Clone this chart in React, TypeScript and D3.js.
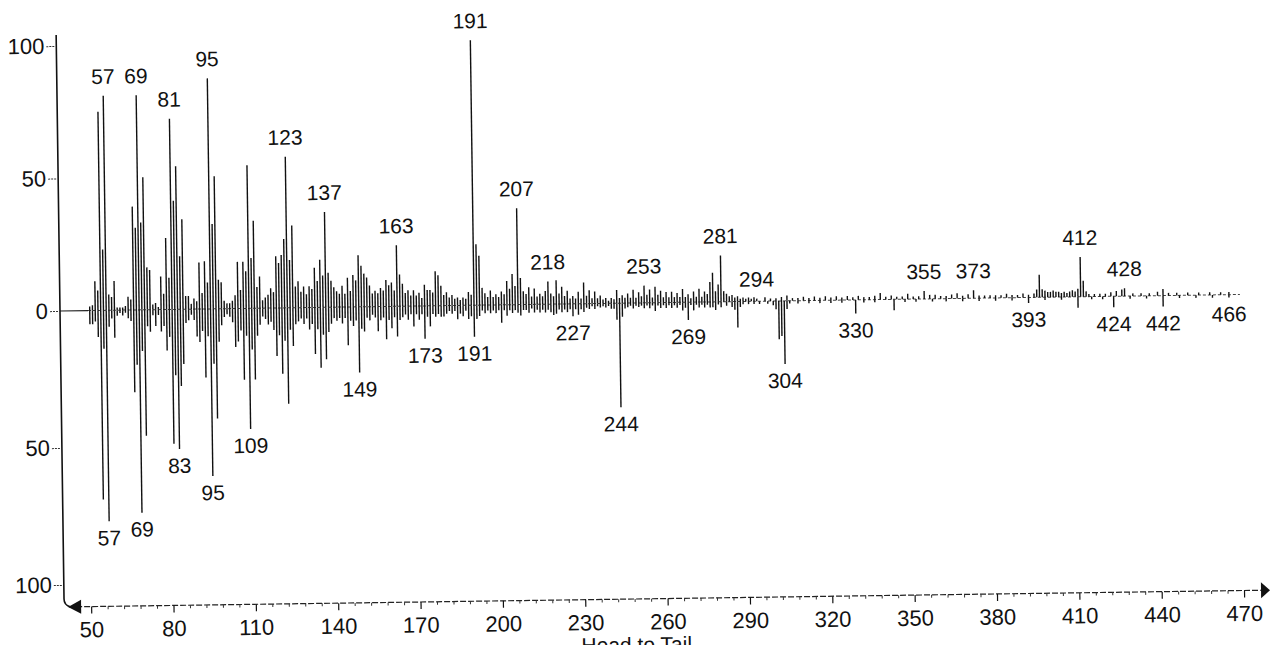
import React, { useEffect, useRef } from "react";
import * as d3 from "d3";

const WIDTH = 1274,
  HEIGHT = 645;

// Upper (head) spectrum: [m/z, relative intensity]
const headPeaks: [number, number][] = [
  [51, 1.5], [52, 2], [53, 11], [54, 7.5], [55, 75], [56, 23], [57, 81], [58, 6], [59, 5], [60, 11],
  [61, 1], [62, 1], [63, 1], [64, 1.5], [65, 5], [66, 4], [67, 39], [68, 31], [69, 81], [70, 33],
  [71, 50], [72, 16], [73, 15], [74, 2], [75, 2.5], [76, 1], [77, 12.5], [78, 6], [79, 27], [80, 12],
  [81, 72], [82, 41], [83, 54], [84, 20], [85, 34], [86, 5], [87, 5], [88, 2], [89, 4], [90, 3],
  [91, 17.6], [92, 6], [93, 18], [94, 10], [95, 87], [96, 32], [97, 50], [98, 11], [99, 10], [100, 3],
  [101, 2], [102, 2], [103, 3], [104, 5], [105, 17.6], [106, 7], [107, 17.6], [108, 14], [109, 54], [110, 19],
  [111, 33], [112, 8], [113, 12], [114, 3], [115, 4], [116, 5], [117, 7.5], [118, 6], [119, 19.5], [120, 17],
  [121, 20], [122, 26], [123, 57], [124, 18], [125, 31], [126, 8], [127, 10], [128, 6], [129, 8], [130, 5],
  [131, 8], [132, 7], [133, 15], [134, 10], [135, 18], [136, 12], [137, 36], [138, 13], [139, 10], [140, 7.5],
  [141, 6], [142, 5], [143, 8], [144, 5], [145, 11], [146, 6], [147, 12], [148, 10], [149, 19.5], [150, 15.5],
  [151, 12.5], [152, 11], [153, 8], [154, 5], [155, 6], [156, 5], [157, 7], [158, 6], [159, 10], [160, 8],
  [161, 9], [162, 6], [163, 23], [164, 12], [165, 8.5], [166, 5], [167, 6], [168, 4], [169, 6], [170, 4],
  [171, 5], [172, 3], [173, 8], [174, 6], [175, 6], [176, 5], [177, 13], [178, 11.5], [179, 7.5], [180, 4],
  [181, 5], [182, 3], [183, 4], [184, 2.5], [185, 3], [186, 2], [187, 3], [188, 2.5], [189, 5], [190, 4],
  [191, 100], [192, 23], [193, 18.6], [194, 6.5], [195, 4.5], [196, 3], [197, 5.5], [198, 3], [199, 4], [200, 3],
  [201, 5], [202, 4], [203, 9], [204, 6], [205, 11.6], [206, 7], [207, 36.4], [208, 10], [209, 5], [210, 4],
  [211, 6.5], [212, 3], [213, 6], [214, 3], [215, 4], [216, 3], [217, 5], [218, 8.6], [219, 4], [220, 3],
  [221, 9], [222, 4], [223, 6.5], [224, 3], [225, 5], [226, 2], [227, 3], [228, 2], [229, 4.5], [230, 2],
  [231, 8], [232, 3], [233, 5], [234, 2], [235, 4.5], [236, 2], [237, 3], [238, 1.5], [239, 2], [240, 1],
  [241, 2], [242, 1.5], [243, 5], [244, 2], [245, 3], [246, 2], [247, 3.6], [248, 2], [249, 5], [250, 2],
  [251, 4], [252, 2.5], [253, 6.5], [254, 3], [255, 5], [256, 2], [257, 6], [258, 3], [259, 4.5], [260, 2],
  [261, 4], [262, 2], [263, 4], [264, 2], [265, 3.5], [266, 2], [267, 5], [268, 2], [269, 3], [270, 1.5],
  [271, 4], [272, 2], [273, 5], [274, 2], [275, 4], [276, 3], [277, 7.5], [278, 11], [279, 4], [280, 6.5],
  [281, 17.5], [282, 4], [283, 3], [284, 2], [285, 2.5], [286, 1.5], [287, 2], [288, 1], [289, 1.5], [290, 1],
  [291, 1.5], [292, 1], [293, 1.5], [294, 1], [297, 1.5], [299, 1], [301, 1], [303, 1.5], [305, 2], [307, 1],
  [309, 1], [311, 1.5], [313, 1], [315, 1.5], [317, 1], [319, 1.5], [321, 1], [323, 1.5], [325, 1], [327, 1.5],
  [329, 1], [331, 1.5], [333, 1], [335, 1], [337, 1.5], [339, 2.5], [341, 1], [343, 1.5], [345, 1], [347, 1],
  [349, 2], [351, 1], [353, 1], [355, 3], [357, 1.5], [359, 1.5], [361, 1], [363, 1], [365, 1.5], [367, 2],
  [369, 1], [371, 1.5], [373, 3], [375, 1], [377, 1], [379, 1], [381, 1], [383, 1], [385, 1.5], [387, 1],
  [389, 1], [391, 1.5], [393, 1], [395, 1.5], [396, 3], [397, 8.5], [398, 3], [399, 2.5], [400, 2], [401, 2],
  [402, 2.5], [403, 2], [404, 2], [405, 1.5], [406, 2], [407, 1.5], [408, 2], [409, 2.5], [410, 2], [411, 3],
  [412, 15], [413, 6], [414, 2], [415, 1], [417, 1], [419, 1], [421, 1], [423, 1.5], [425, 2], [427, 2.5],
  [428, 3], [431, 1], [434, 1], [437, 1], [440, 1.5], [442, 2.5], [444, 1], [447, 1], [451, 1], [455, 1],
  [459, 1], [463, 1], [466, 1],
];

// Lower (tail) spectrum: [m/z, relative intensity], drawn downwards
const tailPeaks: [number, number][] = [
  [51, 5], [52, 5], [53, 4], [54, 9.7], [55, 69], [56, 14], [57, 77], [58, 6], [59, 3], [60, 10],
  [61, 2], [62, 1], [63, 2], [64, 1], [65, 3], [66, 4], [67, 30], [68, 20], [69, 74], [70, 15],
  [71, 46], [72, 6], [73, 8], [74, 2], [75, 6], [76, 2], [77, 8], [78, 6], [79, 15], [80, 10],
  [81, 49], [82, 24], [83, 51], [84, 28], [85, 20], [86, 5], [87, 4], [88, 2], [89, 4], [90, 10],
  [91, 12], [92, 8], [93, 25], [94, 10], [95, 61], [96, 20], [97, 40], [98, 12], [99, 6], [100, 3],
  [101, 2], [102, 3], [103, 5], [104, 14], [105, 12], [106, 8], [107, 26], [108, 10], [109, 44], [110, 15],
  [111, 26], [112, 10], [113, 6], [114, 3], [115, 4], [116, 6], [117, 5], [118, 8], [119, 17.5], [120, 10],
  [121, 24], [122, 12], [123, 35], [124, 8], [125, 14], [126, 6], [127, 5], [128, 4], [129, 6], [130, 4],
  [131, 8], [132, 6], [133, 17], [134, 8], [135, 22], [136, 10], [137, 19], [138, 9], [139, 6], [140, 4],
  [141, 5], [142, 4], [143, 6], [144, 4], [145, 14], [146, 5], [147, 7], [148, 5], [149, 24], [150, 8],
  [151, 9], [152, 4], [153, 5], [154, 3], [155, 4], [156, 9], [157, 5], [158, 4], [159, 12], [160, 5],
  [161, 8], [162, 4], [163, 11], [164, 5], [165, 4], [166, 3], [167, 5], [168, 3], [169, 7.5], [170, 3],
  [171, 5], [172, 3], [173, 12], [174, 4], [175, 7.5], [176, 3], [177, 4], [178, 3], [179, 4], [180, 4],
  [181, 3], [182, 2], [183, 3], [184, 2], [185, 5], [186, 3], [187, 4], [188, 2], [189, 5], [190, 4],
  [191, 11.5], [192, 5], [193, 4], [194, 2], [195, 3], [196, 2], [197, 3], [198, 2], [199, 3], [200, 2],
  [201, 6.5], [202, 2], [203, 4], [204, 2], [205, 3], [206, 2], [207, 3], [208, 4], [209, 2], [210, 2],
  [211, 3], [212, 1.5], [213, 3], [214, 2], [215, 3], [216, 2], [217, 3], [218, 2], [219, 3], [220, 4],
  [221, 3.5], [222, 2], [223, 3], [224, 2], [225, 3], [226, 2], [227, 4.5], [228, 2], [229, 4], [230, 2],
  [231, 3], [232, 1.5], [233, 2], [234, 1], [235, 2], [236, 1], [237, 1.5], [238, 1], [239, 1.5], [240, 1],
  [241, 2], [242, 2], [243, 6], [244, 38], [245, 5], [246, 2], [247, 1.5], [248, 1], [249, 2], [250, 1],
  [251, 1.5], [252, 1], [253, 2], [254, 1], [255, 2], [256, 1], [257, 3], [258, 1], [259, 2], [260, 1],
  [261, 2], [262, 1], [263, 2], [264, 1], [265, 2], [266, 1], [267, 3], [268, 2], [269, 6.5], [270, 1],
  [271, 3], [272, 1], [273, 2], [274, 1], [275, 2], [276, 1], [277, 2], [278, 2], [279, 3], [280, 1],
  [281, 2], [283, 1.5], [285, 2], [286, 3], [287, 9.5], [288, 2], [289, 1], [291, 1], [293, 1], [295, 1],
  [298, 1], [300, 1.5], [301, 3], [302, 14], [303, 12.8], [304, 23], [305, 3], [306, 1], [309, 1], [313, 1],
  [317, 1], [321, 1], [325, 1], [330, 5], [333, 1], [337, 1], [344, 4], [348, 1], [352, 1], [358, 1],
  [363, 1], [369, 1], [375, 1], [381, 1], [387, 1], [393, 2], [399, 1], [405, 1], [411, 4], [416, 1],
  [420, 1], [424, 4], [430, 1], [436, 1], [442, 4], [448, 1], [454, 1], [460, 1], [466, 1],
];

// Annotated masses
const headLabels = [57, 69, 81, 95, 123, 137, 163, 191, 207, 218, 253, 281, 294, 355, 373, 412, 428];
const tailLabels = [57, 69, 83, 95, 109, 149, 173, 191, 227, 244, 269, 304, 330, 393, 424, 442, 466];

// Axis ticks
const xTickValues = [50, 80, 110, 140, 170, 200, 230, 260, 290, 320, 350, 380, 410, 440, 470];
const xMinorTicks = d3.range(50, 471, 6).filter((v) => (v - 50) % 30 !== 0);
const headYTicks = [0, 50, 100];
const tailYTicks = [50, 100];

const FONT = "'Liberation Sans', Arial, Helvetica, sans-serif";

function HeadToTail() {
  const ref = useRef<SVGSVGElement>(null);

  useEffect(() => {
    const svg = d3.select(ref.current);
    svg.selectAll("*").remove();

    svg.append("rect").attr("width", WIDTH).attr("height", HEIGHT).attr("fill", "#fff");

    // the scanned plot is slightly rotated
    const g = svg.append("g").attr("transform", "rotate(-0.8 60 311)");

    const x = d3.scaleLinear().domain([50, 470]).range([87, 1240]);
    const yHead = d3.scaleLinear().domain([0, 100]).range([311, 46]);
    const yTail = d3.scaleLinear().domain([0, 100]).range([311, 585]);

    // zero line
    g.append("line")
      .attr("x1", 60).attr("x2", 88).attr("y1", yHead(0)).attr("y2", yHead(0))
      .attr("stroke", "#222").attr("stroke-width", 1.2);
    g.append("line")
      .attr("x1", 88).attr("x2", 1240).attr("y1", yHead(0)).attr("y2", yHead(0))
      .attr("stroke", "#444").attr("stroke-width", 1).attr("stroke-dasharray", "3 2");

    // peaks
    g.append("g")
      .selectAll("line")
      .data(headPeaks)
      .enter()
      .append("line")
      .attr("x1", (d) => x(d[0])).attr("x2", (d) => x(d[0]))
      .attr("y1", yHead(0)).attr("y2", (d) => yHead(d[1]))
      .attr("stroke", "#111").attr("stroke-width", 1.4);

    g.append("g")
      .selectAll("line")
      .data(tailPeaks)
      .enter()
      .append("line")
      .attr("x1", (d) => x(d[0])).attr("x2", (d) => x(d[0]))
      .attr("y1", yTail(0)).attr("y2", (d) => yTail(d[1]))
      .attr("stroke", "#111").attr("stroke-width", 1.4);

    // peak labels
    const headMap = new Map(headPeaks);
    const tailMap = new Map(tailPeaks);

    g.append("g")
      .selectAll("text")
      .data(headLabels)
      .enter()
      .append("text")
      .attr("x", (d) => x(d))
      .attr("y", (d) => yHead(headMap.get(d) ?? 0) - 12)
      .attr("text-anchor", "middle")
      .attr("font-family", FONT).attr("font-size", 21).attr("fill", "#111")
      .text((d) => d);

    g.append("g")
      .selectAll("text")
      .data(tailLabels)
      .enter()
      .append("text")
      .attr("x", (d) => x(d))
      .attr("y", (d) => yTail(tailMap.get(d) ?? 0) + 24)
      .attr("text-anchor", "middle")
      .attr("font-family", FONT).attr("font-size", 21).attr("fill", "#111")
      .text((d) => d);

    // left axis
    g.append("path")
      .attr("d", "M60,35 V599 Q60,605 66,607")
      .attr("fill", "none").attr("stroke", "#111").attr("stroke-width", 1.6);

    const leftHead = g.append("g").attr("transform", "translate(58,0)")
      .call(d3.axisLeft(yHead).tickValues(headYTicks).tickSize(8).tickPadding(2));
    const leftTail = g.append("g").attr("transform", "translate(58,0)")
      .call(d3.axisLeft(yTail).tickValues(tailYTicks).tickSize(8).tickPadding(2));
    [leftHead, leftTail].forEach((a) => {
      a.select(".domain").remove();
      a.selectAll(".tick line").attr("stroke", "#333").attr("stroke-dasharray", "2 1");
      a.selectAll(".tick text").attr("font-family", FONT).attr("font-size", 22).attr("fill", "#111");
    });

    // bottom axis
    g.append("line")
      .attr("x1", 72).attr("x2", 1258).attr("y1", 607).attr("y2", 607)
      .attr("stroke", "#222").attr("stroke-width", 1.2).attr("stroke-dasharray", "6 2");
    g.append("path").attr("d", "M64,607 L77,600 L77,614 Z").attr("fill", "#111");
    g.append("path").attr("d", "M1266,607 L1257,599 L1257,615 Z").attr("fill", "#111");

    const minor = g.append("g").attr("transform", "translate(0,607)")
      .call(d3.axisBottom(x).tickValues(xMinorTicks).tickSize(3).tickFormat(() => ""));
    minor.select(".domain").remove();
    minor.selectAll(".tick line").attr("stroke", "#333");

    const bottom = g.append("g").attr("transform", "translate(0,607)")
      .call(d3.axisBottom(x).tickValues(xTickValues).tickSize(7).tickPadding(8));
    bottom.select(".domain").remove();
    bottom.selectAll(".tick line").attr("stroke", "#111").attr("stroke-width", 1.2);
    bottom.selectAll(".tick text").attr("font-family", FONT).attr("font-size", 22).attr("fill", "#111");

    // axis title (cut by the bottom edge)
    g.append("text")
      .attr("x", 632).attr("y", 660)
      .attr("text-anchor", "middle")
      .attr("font-family", FONT).attr("font-size", 21).attr("fill", "#111")
      .text("Head to Tail");
  }, []);

  return (
    <svg
      ref={ref}
      width={WIDTH}
      height={HEIGHT}
      style={{ position: "absolute", left: 0, top: 0, display: "block" }}
    />
  );
}

export default function App() {
  return <HeadToTail />;
}
